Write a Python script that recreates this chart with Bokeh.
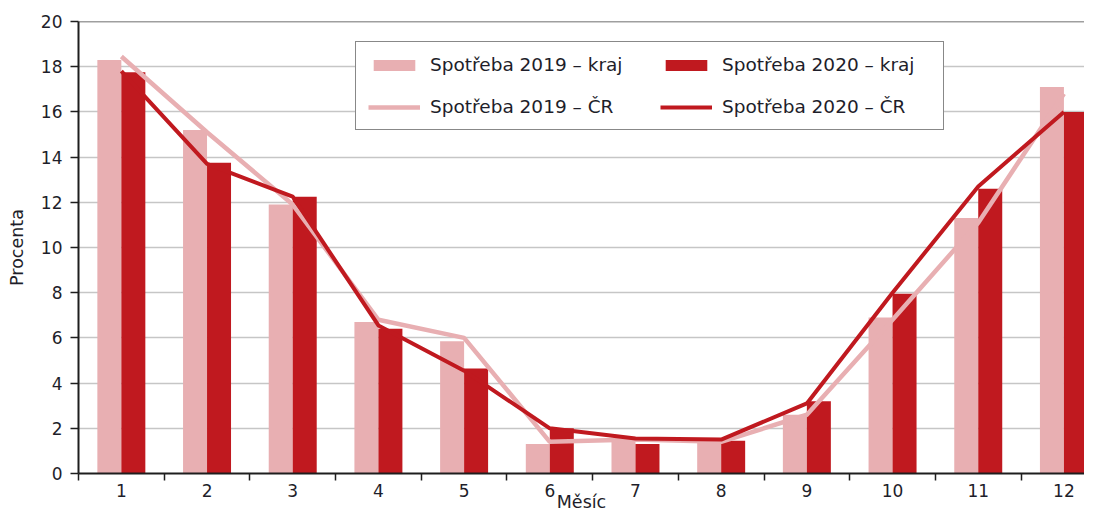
from bokeh.plotting import figure
from bokeh.models import ColumnDataSource, FixedTicker, Span, Legend, LegendItem
from bokeh.transform import dodge
from bokeh.embed import file_html
from bokeh.resources import INLINE

months = list(range(1, 13))
tick_labels = [str(m) for m in months]
kraj_2019 = [18.3, 15.2, 11.9, 6.7, 5.85, 1.3, 1.45, 1.4, 2.6, 6.9, 11.3, 17.1]
kraj_2020 = [17.75, 13.75, 12.25, 6.4, 4.65, 2.0, 1.3, 1.45, 3.2, 7.95, 12.6, 16.0]
cr_2019 = [18.45, 15.1, 11.9, 6.8, 6.0, 1.4, 1.5, 1.4, 2.6, 6.8, 11.1, 16.8]
cr_2020 = [17.8, 13.7, 12.25, 6.55, 4.55, 2.0, 1.55, 1.5, 3.1, 8.0, 12.7, 16.0]

LIGHT = "#e8afb2"
DARK = "#c0191f"
FONT = "DejaVu Sans"
TXT = "#1e1e2a"

src = ColumnDataSource(dict(month=months, k19=kraj_2019, k20=kraj_2020, c19=cr_2019, c20=cr_2020))

# frame: 78 px from left, 21 px from top, spacing ~85.8 px per month
p = figure(width=1084, height=514, x_range=(0.5, 12.24), y_range=(0, 20),
           output_backend="svg", toolbar_location=None,
           min_border_left=78, min_border_right=0, min_border_top=21, min_border_bottom=41)
p.outline_line_color = None
p.background_fill_color = "white"

b1 = p.vbar(x=dodge("month", -0.14, range=p.x_range), top="k19", width=0.28, source=src,
            fill_color=LIGHT, line_color=None)
b2 = p.vbar(x=dodge("month", 0.14, range=p.x_range), top="k20", width=0.28, source=src,
            fill_color=DARK, line_color=None)
l1 = p.line(x="month", y="c19", source=src, line_color=LIGHT, line_width=4.5)
l2 = p.line(x="month", y="c20", source=src, line_color=DARK, line_width=4)

p.add_layout(Span(location=20, dimension="width", line_color="#404040", line_width=1.5))

# axes
p.xaxis.ticker = FixedTicker(ticks=months, minor_ticks=[m - 0.5 for m in months] + [12.5])
p.xaxis.major_label_overrides = {m: t for m, t in zip(months, tick_labels)}
p.xaxis.major_tick_out = 7
p.xaxis.major_tick_in = 0
p.xaxis.minor_tick_out = 7
p.xaxis.minor_tick_in = 0
p.xaxis.minor_tick_line_color = "#1e1e1e"
p.xaxis.minor_tick_line_width = 1.5
p.xaxis.major_label_standoff = 3
p.xaxis.axis_label = "Měsíc"
p.xaxis.axis_label_standoff = -8

p.yaxis.ticker = FixedTicker(ticks=list(range(0, 21, 2)))
p.yaxis.major_tick_out = 8
p.yaxis.major_tick_in = 0
p.yaxis.minor_tick_line_color = None
p.yaxis.major_tick_line_width = 1.5
p.yaxis.major_label_standoff = 8
p.yaxis.axis_label = "Procenta"
p.yaxis.axis_label_standoff = 11

for ax in (p.xaxis[0], p.yaxis[0]):
    ax.axis_line_color = "#1e1e1e"
    ax.axis_line_width = 2
    ax.major_label_text_font = FONT
    ax.major_label_text_font_size = "17px"
    ax.major_label_text_color = TXT
    ax.axis_label_text_font = FONT
    ax.axis_label_text_font_size = "17.5px"
    ax.axis_label_text_font_style = "normal"
    ax.axis_label_text_color = TXT
p.xaxis.major_tick_line_color = None
p.yaxis.major_tick_line_color = "#1e1e1e"

p.xgrid.grid_line_color = None
p.ygrid.grid_line_color = "#c6c6c6"
p.ygrid.grid_line_width = 1.5

legend = Legend(items=[
    LegendItem(label="Spotřeba 2019 – kraj", renderers=[b1]),
    LegendItem(label="Spotřeba 2020 – kraj", renderers=[b2]),
    LegendItem(label="Spotřeba 2019 – ČR", renderers=[l1]),
    LegendItem(label="Spotřeba 2020 – ČR", renderers=[l2]),
], ncols=2, orientation="horizontal", location=(277, 343))
legend.label_text_font = FONT
legend.label_text_font_size = "18.5px"
legend.label_text_color = TXT
legend.glyph_width = 52
legend.glyph_height = 14
legend.label_height = 18
legend.label_width = 209
legend.label_standoff = 10
legend.spacing = 21
legend.padding = 12
legend.margin = 0
legend.border_line_color = "#111111"
legend.border_line_width = 1.5
legend.background_fill_alpha = 1
p.add_layout(legend, "center")

open("out.html", "w").write(file_html(p, INLINE))
